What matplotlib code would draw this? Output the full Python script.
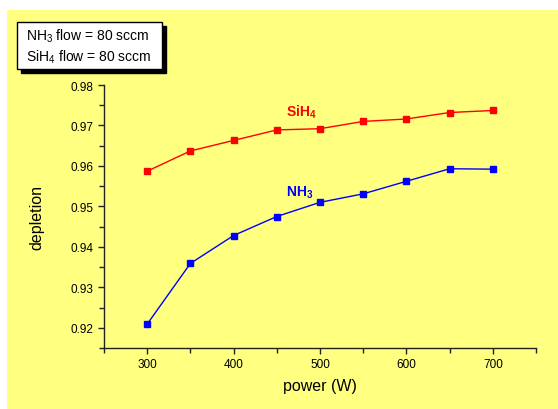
import matplotlib.pyplot as plt
from matplotlib.patches import Rectangle
from matplotlib.ticker import MultipleLocator

plt.rcParams['font.family'] = ['Liberation Sans', 'DejaVu Sans']
plt.rcParams['mathtext.fontset'] = 'custom'
plt.rcParams['mathtext.rm'] = 'Liberation Sans'
plt.rcParams['mathtext.bf'] = 'Liberation Sans:bold'

# data
power = [300, 350, 400, 450, 500, 550, 600, 650, 700]
sih4 = [0.9587, 0.9637, 0.9663, 0.9689, 0.9692, 0.9710, 0.9716, 0.9732, 0.9737]
nh3 = [0.9209, 0.9359, 0.9428, 0.9475, 0.9510, 0.9531, 0.9562, 0.9593, 0.9592]

bg = '#ffff80'
fig = plt.figure(figsize=(5.58, 4.10), dpi=100)
fig.patch.set_facecolor('white')

# yellow page behind the plot (white strip on left and top)
fig.patches.append(Rectangle((7 / 558, 0), 1, 1 - 11 / 410, transform=fig.transFigure,
                             facecolor=bg, edgecolor='none', zorder=-10))

ax = fig.add_axes([104 / 558, 1 - 349 / 410, 432 / 558, 263 / 410])
ax.set_facecolor(bg)

ax.plot(power, sih4, color='#ff0000', marker='s', markersize=5, linewidth=1, clip_on=False)
ax.plot(power, nh3, color='#0000ff', marker='s', markersize=5, linewidth=1, clip_on=False)

ax.text(461, 0.9724, r'SiH$_{\mathbf{4}}$', color='#ff0000', fontsize=10, fontweight='bold')
ax.text(461, 0.9526, r'NH$_{\mathbf{3}}$', color='#0000ff', fontsize=10, fontweight='bold')

ax.set_xlim(250, 750)
ax.set_ylim(0.915, 0.98)
ax.xaxis.set_minor_locator(MultipleLocator(50))
ax.yaxis.set_minor_locator(MultipleLocator(0.005))
ax.set_xticks([300, 400, 500, 600, 700])
ax.set_yticks([0.92, 0.93, 0.94, 0.95, 0.96, 0.97, 0.98])

for s in ['top', 'right']:
    ax.spines[s].set_visible(False)
for s in ['left', 'bottom']:
    ax.spines[s].set_color('#222222')
    ax.spines[s].set_linewidth(1)

ax.tick_params(which='major', length=4, width=1, labelsize=8.5, color='#222222')
ax.tick_params(which='minor', length=3.5, width=1, color='#222222')

ax.set_xlabel('power (W)', fontsize=11.5)
ax.set_ylabel('depletion', fontsize=11.5)
ax.xaxis.set_label_coords(0.5, -0.115)
ax.yaxis.set_label_coords(-0.137, 0.5)

# info box with drop shadow
x0, y0, w, h = 17 / 558, 1 - 70 / 410, 145 / 558, 47 / 410
fig.patches.append(Rectangle((x0 + 4 / 558, y0 - 4 / 410), w, h, transform=fig.transFigure,
                             facecolor='black', edgecolor='black', zorder=5))
fig.patches.append(Rectangle((x0, y0), w, h, transform=fig.transFigure,
                             facecolor='white', edgecolor='black', linewidth=1, zorder=6))
fig.text(26 / 558, 1 - 36 / 410, 'NH$_3$ flow = 80 sccm', fontsize=10, va='center', zorder=7)
fig.text(26 / 558, 1 - 57 / 410, 'SiH$_4$ flow = 80 sccm', fontsize=10, va='center', zorder=7)

fig.savefig('out.png', dpi=100, facecolor=fig.get_facecolor())
